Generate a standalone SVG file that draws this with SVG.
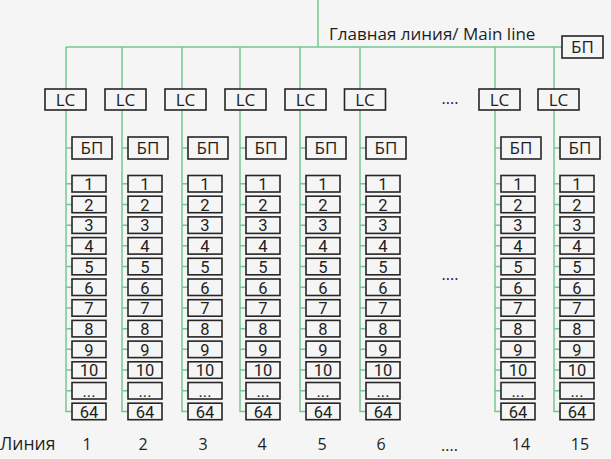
<svg xmlns="http://www.w3.org/2000/svg" width="611" height="459" viewBox="0 0 611 459">
<style>
.bg{fill:#f5f5f5}
rect.b{fill:#f5f5f5;stroke:#262626;stroke-width:1.6}
text{font-family:"Open Sans","Noto Sans","DejaVu Sans",sans-serif;fill:#1e1e1e}
.t{font-size:17px;text-anchor:middle}
.n{font-family:Roboto,"Open Sans",sans-serif;font-size:16.5px;text-anchor:middle}
.lbl{font-size:16px;text-anchor:middle}
.con{fill:none;stroke:#74c893;stroke-width:1.5}
</style>
<defs>
<path id="colcon" d="M0,47 V411.45 H6 M0,148 H6 M0,183.75 H6 M0,204.45 H6 M0,225.15 H6 M0,245.85 H6 M0,266.55 H6 M0,287.25 H6 M0,307.95 H6 M0,328.65 H6 M0,349.35 H6 M0,370.05 H6 M0,390.75 H6"/>
</defs>
<rect class="bg" x="0" y="0" width="611" height="459"/>
<g id="connectors" class="con">
<path d="M318,0 V47 M66,47 H562"/>
<use href="#colcon" transform="translate(66,0)"/>
<use href="#colcon" transform="translate(122,0)"/>
<use href="#colcon" transform="translate(182,0)"/>
<use href="#colcon" transform="translate(240,0)"/>
<use href="#colcon" transform="translate(300,0)"/>
<use href="#colcon" transform="translate(360,0)"/>
<use href="#colcon" transform="translate(495,0)"/>
<use href="#colcon" transform="translate(554,0)"/>
</g>
<text x="329" y="40" style="font-size:17px">Главная линия/ Main line</text>
<g id="main-bp"><rect class="b" x="562" y="36" width="41" height="22"/><text class="t" x="582.5" y="53">БП</text></g>

<g id="line1" transform="translate(72,0)">
<g id="l1-lc"><rect class="b" x="-27" y="89" width="41" height="21"/><text class="t" x="-6.5" y="105.8">LC</text></g>
<g id="l1-bp"><rect class="b" x="0" y="137" width="40" height="22"/><text class="t" x="20" y="154.2">БП</text></g>
<g id="l1-1"><rect class="b" x="0" y="175.5" width="34" height="16.5"/><text class="n" x="17" y="190">1</text></g>
<g id="l1-2"><rect class="b" x="0" y="196.2" width="34" height="16.5"/><text class="n" x="17" y="210.7">2</text></g>
<g id="l1-3"><rect class="b" x="0" y="216.9" width="34" height="16.5"/><text class="n" x="17" y="231.4">3</text></g>
<g id="l1-4"><rect class="b" x="0" y="237.6" width="34" height="16.5"/><text class="n" x="17" y="252.1">4</text></g>
<g id="l1-5"><rect class="b" x="0" y="258.3" width="34" height="16.5"/><text class="n" x="17" y="272.8">5</text></g>
<g id="l1-6"><rect class="b" x="0" y="279" width="34" height="16.5"/><text class="n" x="17" y="293.5">6</text></g>
<g id="l1-7"><rect class="b" x="0" y="299.7" width="34" height="16.5"/><text class="n" x="17" y="314.2">7</text></g>
<g id="l1-8"><rect class="b" x="0" y="320.4" width="34" height="16.5"/><text class="n" x="17" y="334.9">8</text></g>
<g id="l1-9"><rect class="b" x="0" y="341.1" width="34" height="16.5"/><text class="n" x="17" y="355.6">9</text></g>
<g id="l1-10"><rect class="b" x="0" y="361.8" width="34" height="16.5"/><text class="n" x="17" y="376.3">10</text></g>
<g id="l1-dots"><rect class="b" x="0" y="382.5" width="34" height="16.5"/><text class="n" x="17" y="397">...</text></g>
<g id="l1-64"><rect class="b" x="0" y="403.2" width="34" height="16.5"/><text class="n" x="17" y="417.7">64</text></g>
</g>

<g id="line2" transform="translate(128,0)">
<g id="l2-lc"><rect class="b" x="-23" y="89" width="41" height="21"/><text class="t" x="-2.5" y="105.8">LC</text></g>
<g id="l2-bp"><rect class="b" x="0" y="137" width="40" height="22"/><text class="t" x="20" y="154.2">БП</text></g>
<g id="l2-1"><rect class="b" x="0" y="175.5" width="34" height="16.5"/><text class="n" x="17" y="190">1</text></g>
<g id="l2-2"><rect class="b" x="0" y="196.2" width="34" height="16.5"/><text class="n" x="17" y="210.7">2</text></g>
<g id="l2-3"><rect class="b" x="0" y="216.9" width="34" height="16.5"/><text class="n" x="17" y="231.4">3</text></g>
<g id="l2-4"><rect class="b" x="0" y="237.6" width="34" height="16.5"/><text class="n" x="17" y="252.1">4</text></g>
<g id="l2-5"><rect class="b" x="0" y="258.3" width="34" height="16.5"/><text class="n" x="17" y="272.8">5</text></g>
<g id="l2-6"><rect class="b" x="0" y="279" width="34" height="16.5"/><text class="n" x="17" y="293.5">6</text></g>
<g id="l2-7"><rect class="b" x="0" y="299.7" width="34" height="16.5"/><text class="n" x="17" y="314.2">7</text></g>
<g id="l2-8"><rect class="b" x="0" y="320.4" width="34" height="16.5"/><text class="n" x="17" y="334.9">8</text></g>
<g id="l2-9"><rect class="b" x="0" y="341.1" width="34" height="16.5"/><text class="n" x="17" y="355.6">9</text></g>
<g id="l2-10"><rect class="b" x="0" y="361.8" width="34" height="16.5"/><text class="n" x="17" y="376.3">10</text></g>
<g id="l2-dots"><rect class="b" x="0" y="382.5" width="34" height="16.5"/><text class="n" x="17" y="397">...</text></g>
<g id="l2-64"><rect class="b" x="0" y="403.2" width="34" height="16.5"/><text class="n" x="17" y="417.7">64</text></g>
</g>

<g id="line3" transform="translate(188,0)">
<g id="l3-lc"><rect class="b" x="-23" y="89" width="41" height="21"/><text class="t" x="-2.5" y="105.8">LC</text></g>
<g id="l3-bp"><rect class="b" x="0" y="137" width="40" height="22"/><text class="t" x="20" y="154.2">БП</text></g>
<g id="l3-1"><rect class="b" x="0" y="175.5" width="34" height="16.5"/><text class="n" x="17" y="190">1</text></g>
<g id="l3-2"><rect class="b" x="0" y="196.2" width="34" height="16.5"/><text class="n" x="17" y="210.7">2</text></g>
<g id="l3-3"><rect class="b" x="0" y="216.9" width="34" height="16.5"/><text class="n" x="17" y="231.4">3</text></g>
<g id="l3-4"><rect class="b" x="0" y="237.6" width="34" height="16.5"/><text class="n" x="17" y="252.1">4</text></g>
<g id="l3-5"><rect class="b" x="0" y="258.3" width="34" height="16.5"/><text class="n" x="17" y="272.8">5</text></g>
<g id="l3-6"><rect class="b" x="0" y="279" width="34" height="16.5"/><text class="n" x="17" y="293.5">6</text></g>
<g id="l3-7"><rect class="b" x="0" y="299.7" width="34" height="16.5"/><text class="n" x="17" y="314.2">7</text></g>
<g id="l3-8"><rect class="b" x="0" y="320.4" width="34" height="16.5"/><text class="n" x="17" y="334.9">8</text></g>
<g id="l3-9"><rect class="b" x="0" y="341.1" width="34" height="16.5"/><text class="n" x="17" y="355.6">9</text></g>
<g id="l3-10"><rect class="b" x="0" y="361.8" width="34" height="16.5"/><text class="n" x="17" y="376.3">10</text></g>
<g id="l3-dots"><rect class="b" x="0" y="382.5" width="34" height="16.5"/><text class="n" x="17" y="397">...</text></g>
<g id="l3-64"><rect class="b" x="0" y="403.2" width="34" height="16.5"/><text class="n" x="17" y="417.7">64</text></g>
</g>

<g id="line4" transform="translate(246,0)">
<g id="l4-lc"><rect class="b" x="-21" y="89" width="41" height="21"/><text class="t" x="-0.5" y="105.8">LC</text></g>
<g id="l4-bp"><rect class="b" x="0" y="137" width="40" height="22"/><text class="t" x="20" y="154.2">БП</text></g>
<g id="l4-1"><rect class="b" x="0" y="175.5" width="34" height="16.5"/><text class="n" x="17" y="190">1</text></g>
<g id="l4-2"><rect class="b" x="0" y="196.2" width="34" height="16.5"/><text class="n" x="17" y="210.7">2</text></g>
<g id="l4-3"><rect class="b" x="0" y="216.9" width="34" height="16.5"/><text class="n" x="17" y="231.4">3</text></g>
<g id="l4-4"><rect class="b" x="0" y="237.6" width="34" height="16.5"/><text class="n" x="17" y="252.1">4</text></g>
<g id="l4-5"><rect class="b" x="0" y="258.3" width="34" height="16.5"/><text class="n" x="17" y="272.8">5</text></g>
<g id="l4-6"><rect class="b" x="0" y="279" width="34" height="16.5"/><text class="n" x="17" y="293.5">6</text></g>
<g id="l4-7"><rect class="b" x="0" y="299.7" width="34" height="16.5"/><text class="n" x="17" y="314.2">7</text></g>
<g id="l4-8"><rect class="b" x="0" y="320.4" width="34" height="16.5"/><text class="n" x="17" y="334.9">8</text></g>
<g id="l4-9"><rect class="b" x="0" y="341.1" width="34" height="16.5"/><text class="n" x="17" y="355.6">9</text></g>
<g id="l4-10"><rect class="b" x="0" y="361.8" width="34" height="16.5"/><text class="n" x="17" y="376.3">10</text></g>
<g id="l4-dots"><rect class="b" x="0" y="382.5" width="34" height="16.5"/><text class="n" x="17" y="397">...</text></g>
<g id="l4-64"><rect class="b" x="0" y="403.2" width="34" height="16.5"/><text class="n" x="17" y="417.7">64</text></g>
</g>

<g id="line5" transform="translate(306,0)">
<g id="l5-lc"><rect class="b" x="-21" y="89" width="41" height="21"/><text class="t" x="-0.5" y="105.8">LC</text></g>
<g id="l5-bp"><rect class="b" x="0" y="137" width="40" height="22"/><text class="t" x="20" y="154.2">БП</text></g>
<g id="l5-1"><rect class="b" x="0" y="175.5" width="34" height="16.5"/><text class="n" x="17" y="190">1</text></g>
<g id="l5-2"><rect class="b" x="0" y="196.2" width="34" height="16.5"/><text class="n" x="17" y="210.7">2</text></g>
<g id="l5-3"><rect class="b" x="0" y="216.9" width="34" height="16.5"/><text class="n" x="17" y="231.4">3</text></g>
<g id="l5-4"><rect class="b" x="0" y="237.6" width="34" height="16.5"/><text class="n" x="17" y="252.1">4</text></g>
<g id="l5-5"><rect class="b" x="0" y="258.3" width="34" height="16.5"/><text class="n" x="17" y="272.8">5</text></g>
<g id="l5-6"><rect class="b" x="0" y="279" width="34" height="16.5"/><text class="n" x="17" y="293.5">6</text></g>
<g id="l5-7"><rect class="b" x="0" y="299.7" width="34" height="16.5"/><text class="n" x="17" y="314.2">7</text></g>
<g id="l5-8"><rect class="b" x="0" y="320.4" width="34" height="16.5"/><text class="n" x="17" y="334.9">8</text></g>
<g id="l5-9"><rect class="b" x="0" y="341.1" width="34" height="16.5"/><text class="n" x="17" y="355.6">9</text></g>
<g id="l5-10"><rect class="b" x="0" y="361.8" width="34" height="16.5"/><text class="n" x="17" y="376.3">10</text></g>
<g id="l5-dots"><rect class="b" x="0" y="382.5" width="34" height="16.5"/><text class="n" x="17" y="397">...</text></g>
<g id="l5-64"><rect class="b" x="0" y="403.2" width="34" height="16.5"/><text class="n" x="17" y="417.7">64</text></g>
</g>

<g id="line6" transform="translate(366,0)">
<g id="l6-lc"><rect class="b" x="-21.5" y="89" width="41" height="21"/><text class="t" x="-1" y="105.8">LC</text></g>
<g id="l6-bp"><rect class="b" x="0" y="137" width="40" height="22"/><text class="t" x="20" y="154.2">БП</text></g>
<g id="l6-1"><rect class="b" x="0" y="175.5" width="34" height="16.5"/><text class="n" x="17" y="190">1</text></g>
<g id="l6-2"><rect class="b" x="0" y="196.2" width="34" height="16.5"/><text class="n" x="17" y="210.7">2</text></g>
<g id="l6-3"><rect class="b" x="0" y="216.9" width="34" height="16.5"/><text class="n" x="17" y="231.4">3</text></g>
<g id="l6-4"><rect class="b" x="0" y="237.6" width="34" height="16.5"/><text class="n" x="17" y="252.1">4</text></g>
<g id="l6-5"><rect class="b" x="0" y="258.3" width="34" height="16.5"/><text class="n" x="17" y="272.8">5</text></g>
<g id="l6-6"><rect class="b" x="0" y="279" width="34" height="16.5"/><text class="n" x="17" y="293.5">6</text></g>
<g id="l6-7"><rect class="b" x="0" y="299.7" width="34" height="16.5"/><text class="n" x="17" y="314.2">7</text></g>
<g id="l6-8"><rect class="b" x="0" y="320.4" width="34" height="16.5"/><text class="n" x="17" y="334.9">8</text></g>
<g id="l6-9"><rect class="b" x="0" y="341.1" width="34" height="16.5"/><text class="n" x="17" y="355.6">9</text></g>
<g id="l6-10"><rect class="b" x="0" y="361.8" width="34" height="16.5"/><text class="n" x="17" y="376.3">10</text></g>
<g id="l6-dots"><rect class="b" x="0" y="382.5" width="34" height="16.5"/><text class="n" x="17" y="397">...</text></g>
<g id="l6-64"><rect class="b" x="0" y="403.2" width="34" height="16.5"/><text class="n" x="17" y="417.7">64</text></g>
</g>

<g id="line14" transform="translate(501,0)">
<g id="l14-lc"><rect class="b" x="-22" y="89" width="41" height="21"/><text class="t" x="-1.5" y="105.8">LC</text></g>
<g id="l14-bp"><rect class="b" x="0" y="137" width="40" height="22"/><text class="t" x="20" y="154.2">БП</text></g>
<g id="l14-1"><rect class="b" x="0" y="175.5" width="34" height="16.5"/><text class="n" x="17" y="190">1</text></g>
<g id="l14-2"><rect class="b" x="0" y="196.2" width="34" height="16.5"/><text class="n" x="17" y="210.7">2</text></g>
<g id="l14-3"><rect class="b" x="0" y="216.9" width="34" height="16.5"/><text class="n" x="17" y="231.4">3</text></g>
<g id="l14-4"><rect class="b" x="0" y="237.6" width="34" height="16.5"/><text class="n" x="17" y="252.1">4</text></g>
<g id="l14-5"><rect class="b" x="0" y="258.3" width="34" height="16.5"/><text class="n" x="17" y="272.8">5</text></g>
<g id="l14-6"><rect class="b" x="0" y="279" width="34" height="16.5"/><text class="n" x="17" y="293.5">6</text></g>
<g id="l14-7"><rect class="b" x="0" y="299.7" width="34" height="16.5"/><text class="n" x="17" y="314.2">7</text></g>
<g id="l14-8"><rect class="b" x="0" y="320.4" width="34" height="16.5"/><text class="n" x="17" y="334.9">8</text></g>
<g id="l14-9"><rect class="b" x="0" y="341.1" width="34" height="16.5"/><text class="n" x="17" y="355.6">9</text></g>
<g id="l14-10"><rect class="b" x="0" y="361.8" width="34" height="16.5"/><text class="n" x="17" y="376.3">10</text></g>
<g id="l14-dots"><rect class="b" x="0" y="382.5" width="34" height="16.5"/><text class="n" x="17" y="397">...</text></g>
<g id="l14-64"><rect class="b" x="0" y="403.2" width="34" height="16.5"/><text class="n" x="17" y="417.7">64</text></g>
</g>

<g id="line15" transform="translate(560,0)">
<g id="l15-lc"><rect class="b" x="-22" y="89" width="41" height="21"/><text class="t" x="-1.5" y="105.8">LC</text></g>
<g id="l15-bp"><rect class="b" x="0" y="137" width="40" height="22"/><text class="t" x="20" y="154.2">БП</text></g>
<g id="l15-1"><rect class="b" x="0" y="175.5" width="34" height="16.5"/><text class="n" x="17" y="190">1</text></g>
<g id="l15-2"><rect class="b" x="0" y="196.2" width="34" height="16.5"/><text class="n" x="17" y="210.7">2</text></g>
<g id="l15-3"><rect class="b" x="0" y="216.9" width="34" height="16.5"/><text class="n" x="17" y="231.4">3</text></g>
<g id="l15-4"><rect class="b" x="0" y="237.6" width="34" height="16.5"/><text class="n" x="17" y="252.1">4</text></g>
<g id="l15-5"><rect class="b" x="0" y="258.3" width="34" height="16.5"/><text class="n" x="17" y="272.8">5</text></g>
<g id="l15-6"><rect class="b" x="0" y="279" width="34" height="16.5"/><text class="n" x="17" y="293.5">6</text></g>
<g id="l15-7"><rect class="b" x="0" y="299.7" width="34" height="16.5"/><text class="n" x="17" y="314.2">7</text></g>
<g id="l15-8"><rect class="b" x="0" y="320.4" width="34" height="16.5"/><text class="n" x="17" y="334.9">8</text></g>
<g id="l15-9"><rect class="b" x="0" y="341.1" width="34" height="16.5"/><text class="n" x="17" y="355.6">9</text></g>
<g id="l15-10"><rect class="b" x="0" y="361.8" width="34" height="16.5"/><text class="n" x="17" y="376.3">10</text></g>
<g id="l15-dots"><rect class="b" x="0" y="382.5" width="34" height="16.5"/><text class="n" x="17" y="397">...</text></g>
<g id="l15-64"><rect class="b" x="0" y="403.2" width="34" height="16.5"/><text class="n" x="17" y="417.7">64</text></g>
</g>

<g id="ellipses" class="lbl">
<text x="450" y="104">....</text>
<text x="450" y="280">....</text>
<text x="449.5" y="451">....</text>
</g>
<g id="labels" class="lbl">
<text x="0" y="450" style="text-anchor:start;font-size:17.5px">Линия</text>
<text x="87" y="450">1</text>
<text x="143" y="450">2</text>
<text x="203" y="450">3</text>
<text x="262" y="450">4</text>
<text x="322" y="450">5</text>
<text x="381" y="450">6</text>
<text x="521" y="450">14</text>
<text x="580" y="450">15</text>
</g>
</svg>
